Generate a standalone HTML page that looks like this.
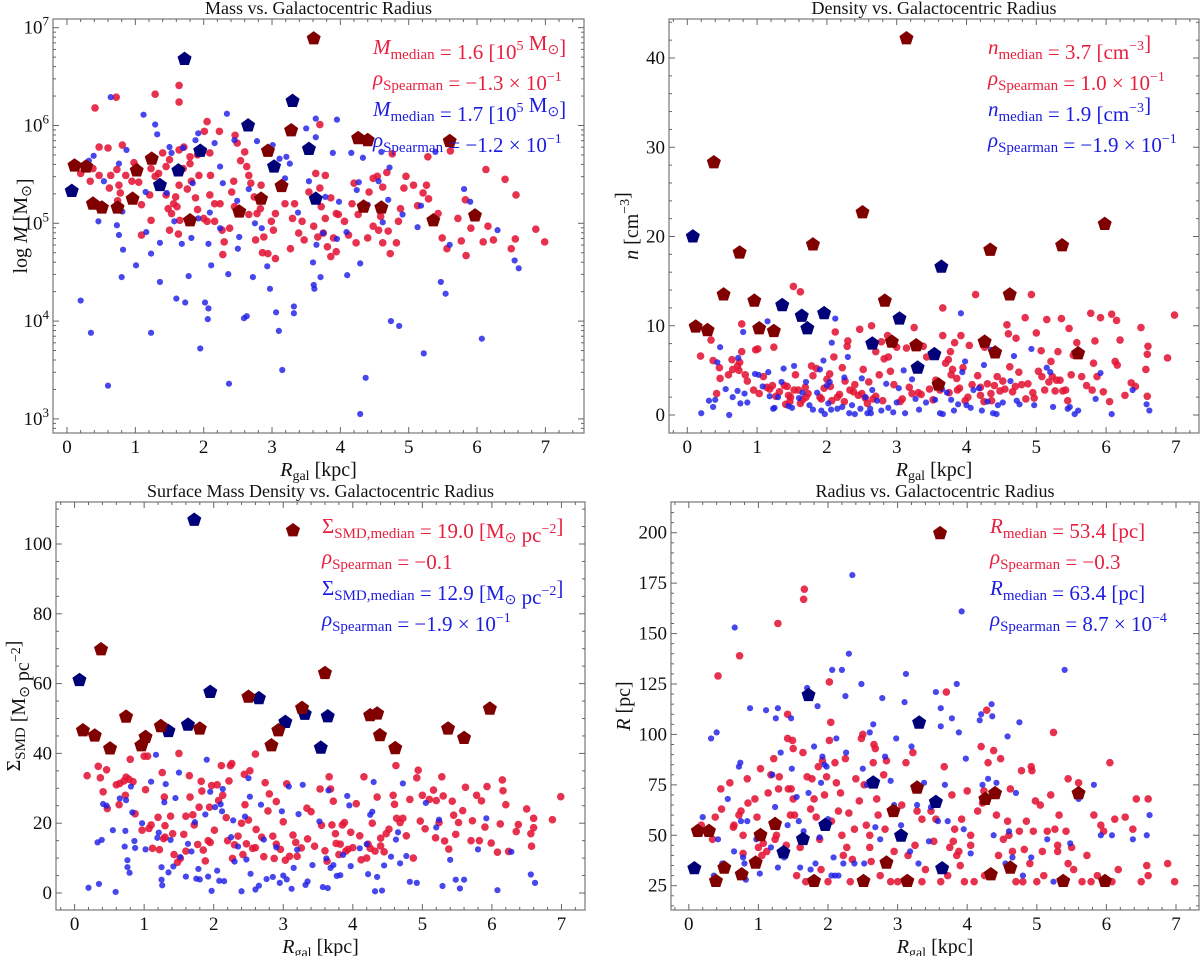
<!DOCTYPE html>
<html><head><meta charset="utf-8"><style>
html,body{margin:0;padding:0;background:#fff;}
svg{display:block;font-family:"Liberation Serif",serif;}
</style></head><body>
<svg id="fig" width="1200" height="956" viewBox="0 0 1200 956" xmlns="http://www.w3.org/2000/svg"></svg>
<script>
const xTicks=[0,1,2,3,4,5,6,7];
const massTicks=[3,4,5,6,7];
const densTicks=[0,10,20,30,40];
const smdTicks=[0,20,40,60,80,100];
const radTicks=[25,50,75,100,125,150,175,200];

const massPentRed=[[0.11,5.59],[0.28,5.58],[0.38,5.20],[0.51,5.16],[0.74,5.16],[0.96,5.25],[1.02,5.54],[1.24,5.66],[1.80,5.03],[2.52,5.12],[2.84,5.25],[2.94,5.74],[3.14,5.38],[3.28,5.95],[3.61,6.89],[4.26,5.87],[4.40,5.85],[4.34,5.17],[4.60,5.16],[5.36,5.03],[5.60,5.84],[5.97,5.08]];
const massPentBlue=[[0.07,5.33],[1.36,5.39],[1.63,5.54],[1.72,6.68],[1.95,5.74],[2.65,6.00],[3.03,5.58],[3.30,6.25],[3.54,5.76],[3.64,5.25]];
const massRed=[[0.41,6.18],[0.72,6.29],[1.29,6.32],[1.64,6.41],[1.64,6.24],[2.05,6.04],[2.01,5.94],[2.23,5.94],[2.46,5.90],[3.70,6.01],[4.76,5.71],[5.28,5.68],[5.61,5.74],[6.13,5.55],[6.41,5.45],[6.57,5.29],[6.86,4.94],[6.99,4.81],[6.56,4.84],[6.50,4.74],[6.24,4.83],[6.09,4.81],[6.16,4.97],[5.91,4.95],[5.84,4.67],[5.77,4.82],[5.72,5.05],[5.83,5.24],[5.56,4.74],[5.49,4.85],[5.43,5.10],[5.29,5.25],[5.26,5.39],[5.21,5.31],[5.13,5.18],[5.07,5.39],[4.96,5.48],[4.93,5.36],[4.88,5.15],[4.85,5.02],[4.82,4.80],[4.73,4.69],[4.70,4.92],[4.62,4.80],[4.56,4.93],[4.59,5.07],[4.62,5.37],[4.68,5.52],[4.54,5.48],[4.48,5.46],[4.42,5.32],[4.48,4.97],[4.40,4.85],[4.23,4.80],[4.26,5.09],[4.17,5.20],[4.20,5.41],[4.12,4.88],[4.06,5.02],[3.97,5.09],[3.94,4.71],[3.86,4.66],[3.90,4.85],[3.86,5.26],[3.94,5.10],[3.78,5.05],[3.75,4.90],[3.81,4.76],[3.67,4.86],[3.61,4.97],[3.72,5.17],[3.70,5.36],[3.64,5.51],[3.78,5.49],[3.54,5.32],[3.47,4.83],[3.44,5.02],[3.39,4.90],[3.33,5.20],[3.30,5.05],[3.27,4.74],[3.19,5.20],[3.05,5.10],[3.02,4.93],[2.99,5.02],[3.05,4.64],[2.94,4.69],[2.86,4.70],[2.76,4.83],[2.88,4.86],[2.83,5.15],[2.84,5.39],[2.74,5.27],[2.78,5.10],[2.66,5.09],[2.69,5.41],[2.63,5.58],[2.60,5.73],[2.66,5.49],[2.49,5.82],[2.54,5.64],[2.44,5.43],[2.41,5.32],[2.45,5.17],[2.38,4.95],[2.28,4.68],[2.30,4.81],[2.27,4.93],[2.24,5.20],[2.16,5.02],[2.16,5.20],[2.09,5.29],[2.05,5.02],[2.00,5.05],[1.91,5.14],[1.88,5.26],[1.93,5.49],[2.10,5.49],[2.09,5.72],[1.91,5.70],[1.80,5.61],[1.80,5.68],[1.71,5.78],[1.64,5.75],[1.70,5.56],[1.82,5.43],[1.76,5.35],[1.64,5.39],[1.59,5.27],[1.61,5.17],[1.53,5.10],[1.48,5.15],[1.65,5.03],[1.63,4.89],[1.50,4.93],[1.56,5.20],[1.45,5.29],[1.45,5.58],[1.50,5.65],[1.40,5.72],[1.34,5.51],[1.23,5.56],[1.29,5.48],[1.21,5.29],[1.23,5.03],[1.09,4.88],[1.09,5.19],[1.05,5.42],[1.01,5.58],[0.98,5.62],[0.95,5.43],[0.81,5.80],[0.86,5.49],[0.78,5.31],[0.76,5.39],[0.73,5.55],[0.64,5.49],[0.62,5.36],[0.60,5.77],[0.47,5.78],[0.38,5.56],[0.47,5.49],[0.34,5.43],[0.20,5.51],[0.74,5.23]];
const massBlue=[[0.20,4.21],[0.35,3.88],[0.60,3.34],[0.64,6.29],[0.46,5.02],[0.39,5.69],[0.32,5.64],[0.54,5.43],[0.73,4.98],[0.76,4.88],[0.81,5.12],[0.80,4.45],[0.82,4.73],[0.76,5.61],[0.87,5.75],[1.01,4.57],[1.12,6.11],[1.15,5.32],[1.16,4.91],[1.23,4.69],[1.23,3.88],[1.29,6.01],[1.32,5.91],[1.36,4.80],[1.36,4.40],[1.50,5.78],[1.46,5.31],[1.53,5.72],[1.57,5.02],[1.60,4.23],[1.68,4.79],[1.70,5.77],[1.73,4.19],[1.78,4.46],[1.82,4.85],[1.88,5.85],[1.92,5.92],[1.84,5.41],[1.92,5.05],[1.95,3.72],[2.02,4.19],[2.07,4.13],[2.06,4.02],[2.07,4.79],[2.09,5.11],[2.11,4.57],[2.16,5.82],[2.24,5.58],[2.24,4.95],[2.28,5.41],[2.34,6.12],[2.36,4.48],[2.37,3.36],[2.45,5.85],[2.49,5.23],[2.50,4.74],[2.52,4.86],[2.59,4.03],[2.63,4.05],[2.66,5.35],[2.72,4.45],[2.75,5.00],[2.78,5.84],[2.85,4.95],[2.93,4.56],[2.97,4.33],[3.01,5.80],[3.06,4.09],[3.10,3.90],[3.11,5.66],[3.15,3.50],[3.19,5.46],[3.21,5.68],[3.26,5.61],[3.32,4.15],[3.32,4.08],[3.38,5.11],[3.50,5.97],[3.54,5.43],[3.60,4.60],[3.61,4.37],[3.62,4.33],[3.64,5.88],[3.64,6.07],[3.65,4.78],[3.71,4.45],[3.75,4.90],[3.78,5.27],[3.89,5.72],[3.95,6.06],[3.95,4.84],[3.98,5.22],[4.09,4.91],[4.10,4.47],[4.16,5.72],[4.24,5.34],[4.27,5.42],[4.29,3.05],[4.29,4.59],[4.33,5.67],[4.37,3.42],[4.60,5.73],[4.62,5.01],[4.70,5.24],[4.74,4.00],[4.86,3.95],[4.91,5.09],[5.13,4.96],[5.18,5.18],[5.22,3.67],[5.39,5.73],[5.47,4.40],[5.54,4.28],[5.60,4.78],[5.81,5.35],[5.90,5.22],[6.07,3.82],[6.30,4.93],[6.55,4.62],[6.61,4.54],[4.56,5.43],[4.72,5.57],[4.40,5.19]];

const densPentRed=[[0.12,9.9],[0.29,9.5],[0.38,28.3],[0.52,13.5],[0.75,18.2],[0.96,12.8],[1.03,9.7],[1.24,9.4],[1.80,19.1],[2.51,22.7],[2.83,12.8],[2.93,8.2],[3.14,42.2],[3.28,7.8],[3.60,3.4],[4.26,8.2],[4.34,18.5],[4.41,7.0],[4.62,13.5],[5.37,19.0],[5.60,6.9],[5.98,21.4]];
const densPentBlue=[[0.08,20.0],[1.36,12.3],[1.64,11.1],[1.72,9.7],[1.96,11.4],[2.65,8.0],[3.04,10.8],[3.30,5.3],[3.54,6.8],[3.64,16.6]];
const densRed=[[0.19,6.6],[0.34,8.4],[0.37,6.1],[0.42,2.4],[0.46,5.3],[0.47,4.1],[0.59,4.5],[0.64,6.2],[0.65,5.1],[0.72,5.5],[0.74,5.0],[0.75,5.9],[0.78,7.1],[0.78,10.2],[0.83,4.5],[0.86,3.8],[0.95,2.8],[0.98,7.3],[1.01,7.4],[1.03,2.4],[1.09,4.3],[1.14,3.1],[1.18,2.9],[1.22,3.3],[1.24,7.6],[1.27,2.1],[1.32,2.6],[1.39,3.3],[1.41,1.2],[1.45,2.2],[1.47,1.5],[1.52,14.4],[1.55,4.5],[1.59,2.8],[1.62,13.8],[1.65,1.7],[1.69,3.1],[1.73,2.4],[1.78,5.5],[1.80,4.4],[1.85,5.2],[1.90,2.0],[1.96,3.0],[2.00,4.0],[2.04,4.6],[2.07,1.6],[2.10,6.5],[2.12,9.3],[2.18,2.3],[2.22,5.3],[2.26,3.8],[2.29,7.7],[2.30,8.3],[2.33,2.8],[2.40,3.4],[2.47,9.6],[2.50,2.4],[2.52,5.1],[2.55,1.9],[2.60,3.7],[2.64,10.0],[2.66,1.8],[2.70,7.1],[2.75,4.5],[2.78,8.2],[2.82,6.3],[2.87,8.9],[2.88,6.5],[2.91,4.9],[2.96,3.4],[3.00,7.6],[3.08,1.8],[3.14,7.5],[3.18,3.1],[3.25,9.8],[3.31,2.5],[3.38,7.7],[3.43,6.5],[3.47,2.9],[3.56,3.9],[3.66,12.0],[3.66,8.9],[3.70,5.8],[3.74,6.2],[3.77,7.1],[3.78,4.5],[3.80,5.1],[3.83,8.1],[3.86,4.1],[3.87,2.8],[3.92,8.9],[3.95,5.3],[3.98,1.6],[4.04,7.8],[4.08,3.4],[4.13,13.5],[4.16,4.4],[4.20,2.2],[4.26,7.6],[4.30,3.5],[4.36,1.6],[4.40,3.3],[4.44,4.3],[4.48,2.7],[4.52,3.8],[4.58,10.1],[4.60,9.1],[4.62,5.4],[4.66,2.6],[4.71,8.6],[4.75,4.8],[4.79,3.4],[4.84,10.9],[4.88,3.5],[4.93,13.5],[4.95,2.5],[4.97,1.9],[5.00,9.2],[5.03,4.9],[5.07,7.2],[5.08,4.3],[5.15,10.7],[5.18,3.7],[5.21,6.0],[5.27,2.7],[5.29,3.9],[5.31,7.1],[5.36,10.8],[5.38,2.7],[5.42,2.8],[5.45,1.6],[5.47,9.7],[5.50,4.5],[5.53,6.7],[5.58,8.1],[5.65,4.3],[5.72,3.3],[5.78,11.4],[5.80,2.8],[5.82,5.8],[5.84,8.3],[5.87,4.3],[5.92,10.9],[5.96,2.6],[6.05,1.5],[6.08,11.3],[6.13,6.0],[6.15,10.6],[6.16,5.6],[6.20,8.4],[6.27,2.2],[6.36,3.6],[6.42,3.2],[6.50,9.8],[6.57,5.1],[6.59,6.8],[6.60,7.7],[6.59,2.1],[6.88,6.4],[6.98,11.2],[1.43,3.2],[1.48,2.0],[1.53,2.8],[1.62,1.3],[1.70,2.0],[1.92,1.8],[2.05,3.2],[2.15,2.0],[2.25,1.5],[2.38,2.6],[2.45,2.2],[2.58,1.3],[2.70,2.1],[2.80,1.6],[3.05,1.5],[3.22,2.4],[3.35,2.3],[3.52,1.7],[3.62,2.8],[3.75,2.5],[3.90,3.0],[4.02,2.0],[4.20,3.1],[4.25,1.5],[4.35,2.4],[4.55,2.9],[4.70,3.2],[4.85,1.8],[5.12,2.8],[5.23,4.3],[5.34,3.9]];
const densBlue=[[0.20,0.2],[0.31,1.6],[0.37,0.9],[0.40,1.7],[0.43,5.9],[0.47,7.6],[0.55,2.9],[0.60,0.0],[0.65,2.0],[0.72,2.7],[0.73,6.4],[0.76,1.3],[0.80,9.3],[0.82,2.4],[0.86,1.4],[0.97,4.6],[1.02,4.5],[1.08,3.2],[1.15,10.5],[1.16,4.8],[1.18,2.1],[1.23,0.7],[1.30,2.0],[1.35,3.7],[1.38,5.2],[1.45,1.0],[1.50,0.8],[1.53,5.5],[1.60,1.9],[1.65,2.5],[1.70,3.7],[1.75,1.1],[1.80,0.6],[1.86,2.5],[1.90,5.1],[1.92,0.5],[1.95,6.1],[1.97,0.1],[2.02,1.3],[2.04,3.7],[2.06,0.6],[2.07,8.1],[2.12,10.8],[2.15,0.7],[2.22,0.9],[2.25,4.2],[2.30,6.5],[2.32,0.2],[2.36,1.1],[2.40,0.1],[2.48,0.7],[2.50,4.1],[2.55,2.0],[2.58,0.2],[2.62,0.7],[2.65,2.8],[2.72,1.6],[2.78,0.5],[2.85,3.5],[2.88,0.8],[2.95,0.3],[3.00,1.4],[3.03,3.0],[3.10,5.0],[3.12,0.2],[3.22,4.0],[3.27,1.8],[3.32,0.6],[3.42,1.4],[3.55,1.7],[3.62,0.2],[3.65,2.9],[3.66,0.1],[3.72,2.5],[3.78,1.7],[3.82,0.5],[3.88,1.2],[3.92,11.4],[3.94,4.8],[3.98,6.0],[4.00,1.1],[4.06,0.8],[4.10,2.8],[4.18,3.0],[4.22,0.5],[4.25,5.6],[4.30,1.5],[4.35,7.3],[4.38,0.2],[4.43,0.1],[4.45,1.1],[4.52,1.4],[4.63,3.8],[4.68,6.6],[4.72,1.6],[4.76,1.2],[4.93,7.4],[4.97,1.1],[5.15,5.3],[5.20,4.8],[5.24,0.9],[5.45,0.7],[5.48,0.9],[5.55,0.1],[5.60,0.5],[5.85,1.8],[5.92,4.7],[6.08,0.1],[6.38,2.8],[6.58,1.2],[6.62,0.5],[1.25,0.8],[2.00,3.3],[2.63,0.2]];

const smdPentRed=[[0.12,46.6],[0.29,45.1],[0.38,69.8],[0.51,41.4],[0.74,50.5],[0.96,42.3],[1.02,44.7],[1.24,47.8],[1.80,47.1],[2.50,56.2],[2.83,42.3],[2.93,46.6],[3.14,103.9],[3.27,53.0],[3.60,63.0],[4.25,50.9],[4.35,51.4],[4.39,45.2],[4.61,41.5],[5.37,47.1],[5.60,44.4],[5.97,52.8]];
const smdPentBlue=[[0.07,61.0],[1.35,46.4],[1.63,48.2],[1.72,106.9],[1.95,57.6],[2.65,55.8],[3.03,49.0],[3.31,51.3],[3.54,41.6],[3.64,50.6]];
const smdRed=[[0.18,33.6],[0.34,36.3],[0.37,33.0],[0.41,29.0],[0.46,35.3],[0.47,24.2],[0.60,31.0],[0.64,25.3],[0.65,31.4],[0.71,32.1],[0.73,28.0],[0.74,33.2],[0.78,32.6],[0.80,38.3],[0.84,31.9],[0.87,22.7],[0.97,18.0],[1.00,39.2],[1.02,29.6],[1.05,39.2],[1.07,18.5],[1.10,19.5],[1.12,12.8],[1.20,21.7],[1.22,12.4],[1.26,34.5],[1.29,27.5],[1.30,19.3],[1.28,15.6],[1.38,22.0],[1.41,17.0],[1.43,11.0],[1.48,8.8],[1.50,40.0],[1.52,9.9],[1.57,16.8],[1.60,22.0],[1.65,33.6],[1.66,27.5],[1.70,22.4],[1.72,19.5],[1.77,13.9],[1.79,24.6],[1.82,32.0],[1.83,29.2],[1.85,12.3],[1.88,9.2],[1.92,15.0],[1.94,24.6],[1.97,30.8],[2.01,18.0],[2.05,31.0],[2.07,26.5],[2.11,36.5],[2.13,28.0],[2.18,21.6],[2.22,32.1],[2.24,36.5],[2.26,37.1],[2.27,9.9],[2.30,13.8],[2.35,16.3],[2.40,20.0],[2.44,34.0],[2.45,25.3],[2.47,14.1],[2.50,20.9],[2.52,35.0],[2.56,12.8],[2.60,39.8],[2.61,18.2],[2.69,16.0],[2.72,10.4],[2.74,31.6],[2.78,23.5],[2.80,28.4],[2.85,16.3],[2.87,9.9],[2.90,26.2],[2.96,12.5],[3.00,20.4],[3.03,9.4],[3.05,31.3],[3.09,10.5],[3.14,16.6],[3.18,14.5],[3.26,12.9],[3.34,24.3],[3.40,23.3],[3.45,13.4],[3.53,29.8],[3.55,19.4],[3.60,12.1],[3.63,9.1],[3.66,33.3],[3.68,29.8],[3.70,19.5],[3.72,26.3],[3.76,14.2],[3.80,11.0],[3.85,19.5],[3.88,20.2],[3.93,12.5],[3.97,17.4],[4.05,25.6],[4.10,16.4],[4.16,33.3],[4.20,10.0],[4.25,12.8],[4.28,20.0],[4.35,27.5],[4.40,15.7],[4.45,11.8],[4.52,18.3],[4.58,28.0],[4.60,25.4],[4.62,36.5],[4.63,21.4],[4.68,20.2],[4.72,21.4],[4.77,16.4],[4.82,26.8],[4.87,10.0],[4.92,33.0],[4.94,35.2],[4.97,20.6],[5.00,28.0],[5.04,18.4],[5.10,26.8],[5.16,29.5],[5.19,15.8],[5.20,26.5],[5.24,20.2],[5.28,33.3],[5.30,27.8],[5.32,14.9],[5.38,12.6],[5.43,26.3],[5.45,22.3],[5.48,16.8],[5.52,20.2],[5.58,23.6],[5.62,30.3],[5.70,15.0],[5.72,20.7],[5.78,28.0],[5.82,15.0],[5.85,26.4],[5.90,18.9],[5.93,30.5],[5.99,14.3],[6.08,11.7],[6.12,19.8],[6.15,32.4],[6.16,29.3],[6.20,25.3],[6.24,11.9],[6.35,17.6],[6.38,19.6],[6.50,24.1],[6.56,17.0],[6.57,13.4],[6.60,21.4],[6.60,18.7],[6.87,21.0],[6.99,27.6],[3.75,17],[3.82,14],[3.9,12],[4.0,13],[4.12,9.5],[4.22,14],[4.32,12],[4.4,13.5],[4.48,17],[2.2,15],[2.42,11],[2.6,13],[2.9,14],[3.2,10.5],[3.35,15.5],[1.6,12],[1.95,14.5],[1.3,16]];
const smdBlue=[[0.20,1.5],[0.35,2.6],[0.33,14.5],[0.39,15.2],[0.41,25.5],[0.46,25.0],[0.55,18.0],[0.59,0.3],[0.65,27.1],[0.72,13.3],[0.73,17.8],[0.74,26.6],[0.76,9.4],[0.76,7.4],[0.79,5.8],[0.81,30.5],[0.83,23.1],[0.86,14.9],[0.87,12.9],[0.97,20.0],[1.02,12.5],[1.10,31.9],[1.17,39.6],[1.19,15.8],[1.21,17.3],[1.25,3.8],[1.26,2.2],[1.25,7.4],[1.29,26.0],[1.31,31.2],[1.35,5.9],[1.38,15.2],[1.42,7.6],[1.45,27.2],[1.50,34.5],[1.52,10.3],[1.60,4.7],[1.63,14.1],[1.68,11.9],[1.73,20.3],[1.75,4.1],[1.78,6.9],[1.80,3.9],[1.88,22.5],[1.90,38.2],[1.92,4.7],[1.95,29.0],[1.97,0.6],[2.02,24.6],[2.05,6.4],[2.08,3.5],[2.10,25.4],[2.12,23.4],[2.13,29.8],[2.15,3.4],[2.25,16.0],[2.28,20.8],[2.30,9.0],[2.35,13.3],[2.40,0.5],[2.45,21.9],[2.47,9.6],[2.50,32.9],[2.52,27.6],[2.53,5.5],[2.60,1.0],[2.65,2.1],[2.68,25.3],[2.72,15.3],[2.76,4.0],[2.85,4.6],[2.90,13.1],[2.95,2.9],[2.98,23.4],[3.00,5.0],[3.05,3.9],[3.08,30.5],[3.12,1.2],[3.15,7.2],[3.20,12.4],[3.22,22.6],[3.28,31.0],[3.32,2.3],[3.35,3.3],[3.42,8.0],[3.52,20.5],[3.57,1.7],[3.62,9.9],[3.64,1.4],[3.65,29.4],[3.68,7.2],[3.72,8.0],[3.77,4.9],[3.82,5.1],[3.86,10.9],[3.92,27.8],[3.95,25.1],[3.97,7.7],[4.10,12.8],[4.20,14.0],[4.22,5.4],[4.25,22.4],[4.28,23.3],[4.30,31.8],[4.32,0.5],[4.35,4.6],[4.42,0.7],[4.45,7.9],[4.55,10.4],[4.62,15.3],[4.65,17.4],[4.68,8.5],[4.72,31.4],[4.77,10.6],[4.82,3.2],[4.92,2.9],[5.05,25.8],[5.20,18.8],[5.24,21.0],[5.29,2.0],[5.40,9.5],[5.48,3.8],[5.54,1.3],[5.60,3.8],[5.80,12.5],[5.92,21.4],[6.08,0.8],[6.28,11.8],[6.56,5.3],[6.62,2.9]];

const radPentRed=[[0.13,52.1],[0.29,52.1],[0.39,27.3],[0.51,33.9],[0.76,30.6],[0.96,36.4],[1.03,50.1],[1.24,55.6],[1.80,27.3],[2.51,27.3],[2.84,36.4],[2.94,62.0],[3.14,27.3],[3.28,73.6],[3.61,199.7],[4.26,68.0],[4.34,30.6],[4.40,70.8],[4.62,33.9],[5.38,27.3],[5.60,70.8],[5.98,27.3]];
const radPentBlue=[[0.08,33.6],[1.36,41.5],[1.64,48.1],[1.72,119.5],[1.96,55.1],[2.65,76.1],[3.05,49.8],[3.31,105.8],[3.55,66.5],[3.64,33.6]];
const radRed=[[0.18,55],[0.34,48],[0.38,59],[0.42,129],[0.46,73],[0.47,63],[0.59,76],[0.64,54],[0.65,55],[0.72,60],[0.73,139],[0.75,62],[0.78,50],[0.78,41],[0.84,78],[0.85,66],[0.95,68],[0.98,59],[1.00,44],[1.03,83],[1.07,46],[1.12,42],[1.14,71],[1.18,80],[1.22,88],[1.24,48],[1.26,50],[1.28,155],[1.29,73],[1.30,79],[1.42,98],[1.42,110],[1.43,73],[1.46,60],[1.47,73],[1.49,97],[1.50,93],[1.50,68],[1.52,60],[1.55,30],[1.60,44],[1.64,91],[1.65,167],[1.66,172],[1.68,27],[1.70,79],[1.75,63],[1.77,78],[1.80,68],[1.83,59],[1.86,84],[1.88,48],[1.92,87],[1.95,70],[1.98,79],[2.00,27],[2.02,126],[2.02,97],[2.04,106],[2.05,57],[2.10,86],[2.12,76],[2.15,62],[2.18,71],[2.20,50],[2.22,40],[2.25,88],[2.27,44],[2.30,61],[2.32,27],[2.38,53],[2.40,78],[2.45,67],[2.48,98],[2.50,100],[2.52,75],[2.55,55],[2.60,44],[2.62,37],[2.65,86],[2.66,95],[2.68,93],[2.70,68],[2.72,60],[2.75,30],[2.80,80],[2.82,53],[2.84,87],[2.90,27],[2.95,42],[3.00,27],[3.06,65],[3.10,27],[3.12,86],[3.22,91],[3.25,45],[3.28,62],[3.35,58],[3.40,33],[3.48,62],[3.52,47],[3.55,58],[3.62,27],[3.67,84],[3.70,121],[3.72,30],[3.75,44],[3.78,70],[3.82,53],[3.85,40],[3.88,42],[3.92,58],[3.96,27],[4.00,72],[4.05,45],[4.10,27],[4.15,62],[4.20,94],[4.22,66],[4.24,72],[4.28,112],[4.30,86],[4.38,92],[4.42,60],[4.48,88],[4.52,48],[4.58,57],[4.62,73],[4.65,42],[4.70,27],[4.75,52],[4.78,82],[4.82,43],[4.85,57],[4.92,84],[4.93,82],[4.95,52],[4.98,67],[5.05,65],[5.08,42],[5.15,52],[5.20,70],[5.24,101],[5.26,53],[5.30,42],[5.32,60],[5.42,52],[5.45,78],[5.50,44],[5.53,33],[5.60,76],[5.65,27],[5.72,40],[5.78,27],[5.82,60],[5.87,30],[5.92,55],[5.96,52],[6.05,86],[6.08,27],[6.12,58],[6.17,33],[6.27,59],[6.38,53],[6.43,68],[6.50,27],[6.58,35],[6.60,68],[6.60,30],[6.88,36],[6.98,27],[3.8,47],[3.9,35],[4.05,50],[4.25,30],[4.45,40],[4.6,50],[4.9,36],[5.1,30],[5.3,45],[5.45,36],[5.0,27],[4.8,27],[5.35,27],[1.05,40],[1.4,45],[1.9,33],[2.35,38],[2.6,50],[3.15,40],[3.35,27]];
const radBlue=[[0.20,59],[0.32,98],[0.36,30],[0.40,101],[0.42,48],[0.48,36],[0.56,68],[0.65,42],[0.66,153],[0.72,84],[0.74,86],[0.75,57],[0.78,39],[0.80,36],[0.82,28],[0.84,57],[0.88,113],[0.97,48],[1.02,31],[1.11,112],[1.18,44],[1.20,80],[1.24,64],[1.25,108],[1.28,113],[1.28,34],[1.32,91],[1.37,39],[1.42,55],[1.47,108],[1.48,83],[1.55,69],[1.58,57],[1.60,34],[1.65,52],[1.70,123],[1.72,71],[1.75,33],[1.80,94],[1.82,36],[1.85,114],[1.88,49],[1.90,76],[1.92,89],[1.95,85],[1.98,84],[2.00,58],[2.05,30],[2.06,132],[2.08,39],[2.10,30],[2.12,98],[2.15,30],[2.20,132],[2.22,36],[2.25,119],[2.26,91],[2.30,140],[2.35,179],[2.38,36],[2.48,125],[2.50,83],[2.52,36],[2.60,101],[2.65,105],[2.68,54],[2.75,48],[2.78,118],[2.82,89],[2.90,77],[2.95,65],[2.98,98],[3.05,55],[3.10,116],[3.12,130],[3.18,42],[3.20,94],[3.28,65],[3.30,36],[3.38,76],[3.45,47],[3.55,121],[3.58,57],[3.62,104],[3.62,113],[3.68,75],[3.72,57],[3.78,108],[3.85,125],[3.88,101],[3.92,161],[3.95,53],[3.98,88],[4.05,41],[4.18,107],[4.20,110],[4.22,75],[4.30,78],[4.35,115],[4.36,109],[4.38,50],[4.42,76],[4.58,99],[4.60,52],[4.65,39],[4.70,71],[4.75,106],[4.80,30],[4.92,39],[5.15,48],[5.24,27],[5.40,132],[5.48,46],[5.60,68],[5.82,75],[5.92,50],[6.08,50],[6.38,48],[6.58,50],[6.62,60],[4.55,36],[3.48,64],[2.56,75]];

const NS='http://www.w3.org/2000/svg';
const svg=document.getElementById('fig');
const RED='rgba(228,22,55,0.88)',BLUE='rgba(30,30,232,0.82)',DRED='#800000',NAVY='#000078';
const TRED='#e8203f',TBLUE='#1c1ce0';
function mk(tag,attrs,parent){const e=document.createElementNS(NS,tag);for(const k in attrs)e.setAttribute(k,attrs[k]);(parent||svg).appendChild(e);return e;}

function pentPts(cx,cy,r){let p=[];for(let i=0;i<5;i++){const a=-Math.PI/2+i*2*Math.PI/5;p.push((cx+r*Math.cos(a)).toFixed(1)+','+(cy+r*Math.sin(a)).toFixed(1));}return p.join(' ');}

function panel(P){
  const g=mk('g',{});
  
  
  const sx=v=>P.x0+v*P.kx;
  const sy=P.log?(v=>P.y0+(P.yref-v)*P.ky):(v=>P.y0-(v-P.yref)*P.ky);
  const fr=mk('rect',{x:P.L,y:P.T,width:P.R-P.L,height:P.B-P.T,fill:'none',stroke:'#777','stroke-width':1.2},g);
  
  
  for(let v=-0.2;v<=7.6;v+=0.2){const xv=Math.round(v*10)/10;const px=sx(xv);if(px<P.L+1||px>P.R-1)continue;const maj=Math.abs(xv-Math.round(xv))<1e-6;const len=maj?6:3;
    mk('line',{x1:px,y1:P.B,x2:px,y2:P.B-len,stroke:'#666','stroke-width':1},g);
    mk('line',{x1:px,y1:P.T,x2:px,y2:P.T+len,stroke:'#666','stroke-width':1},g);}
  xTicks.forEach(t=>{const tx=mk('text',{x:sx(t),y:P.B+20,'text-anchor':'middle','font-size':19,fill:'#111'},g);tx.textContent=String(t);
    
    });
  const ticks=P.ticks;
  if(P.log){
    for(let d=2;d<=7;d++){for(let m=1;m<10;m++){const v=d+Math.log10(m);const py=sy(v);if(py<P.T+1||py>P.B-1)continue;const len=m===1?6:3;
      mk('line',{x1:P.L,y1:py,x2:P.L+len,y2:py,stroke:'#666'},g);mk('line',{x1:P.R,y1:py,x2:P.R-len,y2:py,stroke:'#666'},g);}}
  } else {
    const step=(ticks[1]-ticks[0])/P.minor;
    for(let v=ticks[0]-3*step;v<=ticks[ticks.length-1]+3*step+1e-9;v+=step){const py=sy(v);if(py<P.T+1||py>P.B-1)continue;const maj=ticks.some(t=>Math.abs(t-v)<1e-6);const len=maj?6:3;
      mk('line',{x1:P.L,y1:py,x2:P.L+len,y2:py,stroke:'#666'},g);mk('line',{x1:P.R,y1:py,x2:P.R-len,y2:py,stroke:'#666'},g);}
  }
  ticks.forEach(t=>{const tx=mk('text',{x:P.L-4,y:sy(t)+6,'text-anchor':'end','font-size':19,fill:'#111'},g);
    if(P.log){tx.textContent='10';const s=mk('tspan',{dy:-8,'font-size':13},tx);s.textContent=String(t);}else tx.textContent=String(t);
    
    });
  const ti=mk('text',{x:(P.L+P.R)/2,y:P.T-5,'text-anchor':'middle','font-size':18,fill:'#111'},g);ti.textContent=P.title;
  
  
  const xl=mk('text',{x:(P.L+P.R)/2,y:P.B+43,'text-anchor':'middle','font-size':20,fill:'#111'},g);
  const a=mk('tspan',{'font-style':'italic'},xl);a.textContent='R';const b=mk('tspan',{dy:4,'font-size':14},xl);b.textContent='gal';const c=mk('tspan',{dy:-4},xl);c.textContent=' [kpc]';
  
  
  const yl=mk('text',{x:0,y:0,'text-anchor':'middle','font-size':20,fill:'#111',transform:`translate(${P.ylx},${(P.T+P.B)/2}) rotate(-90)`},g);
  yl.innerHTML=P.ylab;
  
  
  P.red.forEach(d=>{const e=mk('circle',{cx:sx(d[0]),cy:sy(d[1]),r:3.8,fill:RED},g);
    
    });
  P.blue.forEach(d=>{const e=mk('circle',{cx:sx(d[0]),cy:sy(d[1]),r:3.1,fill:BLUE},g);
    
    });
  P.pb.forEach(d=>{const e=mk('polygon',{points:pentPts(sx(d[0]),sy(d[1]),7.4),fill:NAVY},g);
    
    });
  P.pr.forEach(d=>{const e=mk('polygon',{points:pentPts(sx(d[0]),sy(d[1]),7.4),fill:DRED},g);
    
    });
  P.ann.forEach((ln,i)=>{const t=mk('text',{x:P.ax,y:P.ay+i*31,'font-size':21,fill:i<2?TRED:TBLUE},g);t.innerHTML=ln;
    
    });
}
const sub=s=>`<tspan dy="5" font-size="15">${s}</tspan><tspan dy="-5"></tspan>`;
const sup=s=>`<tspan dy="-9" font-size="14">${s}</tspan><tspan dy="9"></tspan>`;
const rho=`<tspan font-style="italic">ρ</tspan>${sub('Spearman')}`;
const sun='M<tspan font-size="14" dy="4">⊙</tspan><tspan dy="-4"></tspan>';

panel({name:'mass-panel',L:53,R:584,T:19,B:433,x0:67,kx:68.34,log:true,y0:27.7,yref:7,ky:97.8,ticks:massTicks,
  title:'Mass vs. Galactocentric Radius',ylx:27,ylab:'log <tspan font-style="italic">M</tspan> ['+sun+']',
  red:massRed,blue:massBlue,pr:massPentRed,pb:massPentBlue,ax:373,ay:54,
  ann:['<tspan font-style="italic">M</tspan>'+sub('median')+' = 1.6 [10'+sup('5')+' '+sun+']',rho+' = −1.3 × 10'+sup('−1'),
       '<tspan font-style="italic">M</tspan>'+sub('median')+' = 1.7 [10'+sup('5')+' '+sun+']',rho+' = −1.2 × 10'+sup('−1')]});
panel({name:'density-panel',L:669,R:1199,T:19,B:433,x0:687.3,kx:69.8,log:false,y0:415,yref:0,ky:8.925,ticks:densTicks,minor:5,
  title:'Density vs. Galactocentric Radius',ylx:638,ylab:'<tspan font-style="italic">n</tspan> [cm'+sup('−3')+']',
  red:densRed,blue:densBlue,pr:densPentRed,pb:densPentBlue,ax:988,ay:54,
  ann:['<tspan font-style="italic">n</tspan>'+sub('median')+' = 3.7 [cm'+sup('−3')+']',rho+' = 1.0 × 10'+sup('−1'),
       '<tspan font-style="italic">n</tspan>'+sub('median')+' = 1.9 [cm'+sup('−3')+']',rho+' = −1.9 × 10'+sup('−1')]});
panel({name:'surface-density-panel',L:56,R:585,T:502,B:910,x0:74.6,kx:69.55,log:false,y0:893,yref:0,ky:3.49,ticks:smdTicks,minor:4,
  title:'Surface Mass Density vs. Galactocentric Radius',ylx:20,ylab:'Σ'+sub('SMD')+' ['+sun+' pc'+sup('−2')+']',
  red:smdRed,blue:smdBlue,pr:smdPentRed,pb:smdPentBlue,ax:322,ay:533,
  ann:['Σ'+sub('SMD,median')+' = 19.0 ['+sun+' pc'+sup('−2')+']',rho+' = −0.1',
       'Σ'+sub('SMD,median')+' = 12.9 ['+sun+' pc'+sup('−2')+']',rho+' = −1.9 × 10'+sup('−1')]});
panel({name:'radius-panel',L:671,R:1199,T:502,B:910,x0:688.8,kx:69.6,log:false,y0:885.7,yref:25,ky:2.017,ticks:radTicks,minor:5,
  title:'Radius vs. Galactocentric Radius',ylx:630,ylab:'<tspan font-style="italic">R</tspan> [pc]',
  red:radRed,blue:radBlue,pr:radPentRed,pb:radPentBlue,ax:990,ay:533,
  ann:['<tspan font-style="italic">R</tspan>'+sub('median')+' = 53.4 [pc]',rho+' = −0.3',
       '<tspan font-style="italic">R</tspan>'+sub('median')+' = 63.4 [pc]',rho+' = 8.7 × 10'+sup('−4')]});
</script>
</body></html>
